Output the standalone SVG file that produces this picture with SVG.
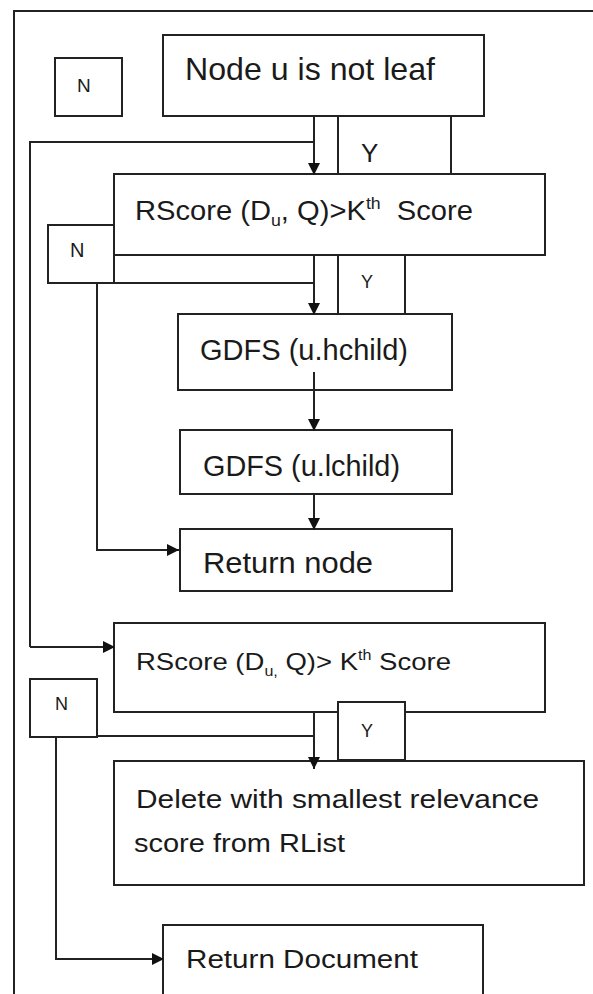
<svg xmlns="http://www.w3.org/2000/svg" width="593" height="994" viewBox="0 0 593 994">
<style>
.box{fill:#fff;stroke:#222;stroke-width:2}
.ln{fill:none;stroke:#222;stroke-width:2}
.t{font-family:"Liberation Sans",Arial,sans-serif;fill:#1a1a1a}
</style>
<defs>
<marker id="ah" viewBox="0 0 10 10" refX="10" refY="5" markerWidth="6" markerHeight="6" markerUnits="strokeWidth" orient="auto">
<path d="M0,0 L10,5 L0,10 Z" fill="#111"/>
</marker>
</defs>
<rect width="593" height="994" fill="#fff"/>
<g id="frame"><path class="ln" d="M14,994 V11 H593"/></g>
<g id="n_leaf"><rect class="box" x="163" y="35" width="321" height="81"/><text class="t" x="185" y="80" font-size="32" textLength="250" lengthAdjust="spacingAndGlyphs">Node u is not leaf</text></g>
<g id="n_N1"><rect class="box" x="55" y="58" width="67" height="58"/><text class="t" x="77" y="92" font-size="19">N</text></g>
<g id="n_Y1"><text class="t" x="361" y="162" font-size="26">Y</text></g>
<g id="n_rscore1"><rect class="box" x="114" y="174" width="431" height="81"/><text class="t" x="135" y="220" font-size="28" textLength="338" lengthAdjust="spacingAndGlyphs">RScore (D<tspan font-size="17" dy="6">u</tspan><tspan dy="-6">, Q)&gt;K</tspan><tspan font-size="17" dy="-11">th</tspan><tspan dy="11">&#160; Score</tspan></text></g>
<g id="n_N2"><rect class="box" x="48" y="225" width="66" height="58"/><text class="t" x="70" y="257" font-size="20">N</text></g>
<g id="n_Y2"><text class="t" x="361" y="288" font-size="18">Y</text></g>
<g id="n_hchild"><rect class="box" x="178" y="314" width="274" height="76"/><text class="t" x="200" y="360" font-size="30" textLength="208" lengthAdjust="spacingAndGlyphs">GDFS (u.hchild)</text></g>
<g id="n_lchild"><rect class="box" x="180" y="430" width="272" height="64"/><text class="t" x="203" y="476" font-size="30" textLength="197" lengthAdjust="spacingAndGlyphs">GDFS (u.lchild)</text></g>
<g id="n_retnode"><rect class="box" x="180" y="529" width="272" height="62"/><text class="t" x="203" y="573" font-size="30" textLength="170" lengthAdjust="spacingAndGlyphs">Return node</text></g>
<g id="n_rscore2"><rect class="box" x="114" y="623" width="431" height="89"/><text class="t" x="136" y="670" font-size="24" textLength="315" lengthAdjust="spacingAndGlyphs">RScore (D<tspan font-size="14" dy="6">u,</tspan><tspan dy="-6"> Q)&gt; K</tspan><tspan font-size="14" dy="-10">th</tspan><tspan dy="10"> Score</tspan></text></g>
<g id="n_N3"><rect class="box" x="30" y="679" width="67" height="58"/><text class="t" x="55" y="710" font-size="18">N</text></g>
<g id="n_Y3"><rect class="box" x="338" y="702" width="67" height="58"/><text class="t" x="361" y="737" font-size="18">Y</text></g>
<g id="n_delete"><rect class="box" x="114" y="761" width="470" height="124"/><text class="t" x="136" y="808" font-size="25" textLength="403" lengthAdjust="spacingAndGlyphs">Delete with smallest relevance</text><text class="t" x="134" y="852" font-size="25" textLength="211" lengthAdjust="spacingAndGlyphs">score from RList</text></g>
<g id="n_retdoc"><rect class="box" x="163" y="925" width="320" height="75"/><text class="t" x="186" y="968" font-size="25" textLength="232" lengthAdjust="spacingAndGlyphs">Return Document</text></g>
<g id="connectors">
<path class="ln" d="M30,647 V142 H314 V175" marker-end="url(#ah)"/>
<path class="ln" d="M314,116 V142"/>
<path class="ln" d="M338,116 V175 M451,116 V175"/>
<path class="ln" d="M114,283 H314 V315" marker-end="url(#ah)"/>
<path class="ln" d="M314,255 V283"/>
<path class="ln" d="M338,255 V315 M405,255 V315"/>
<path class="ln" d="M97,283 V550 H179" marker-end="url(#ah)"/>
<path class="ln" d="M314,372 V431" marker-end="url(#ah)"/>
<path class="ln" d="M314,494 V530" marker-end="url(#ah)"/>
<path class="ln" d="M30,647 H115" marker-end="url(#ah)"/>
<path class="ln" d="M97,736 H314 M314,712 V769" marker-end="url(#ah)"/>
<path class="ln" d="M56,737 V959 H164" marker-end="url(#ah)"/>
</g>
</svg>
